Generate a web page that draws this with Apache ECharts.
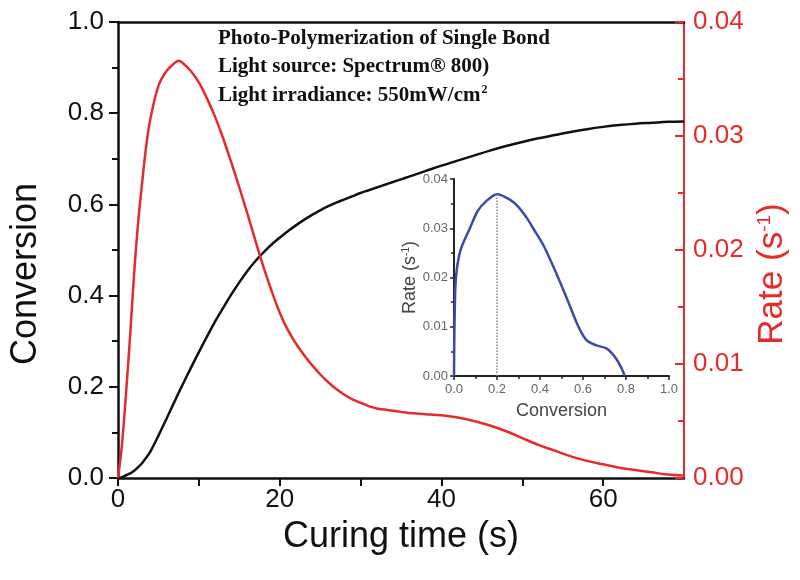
<!DOCTYPE html>
<html><head><meta charset="utf-8">
<script src="https://cdn.jsdelivr.net/npm/echarts@6/dist/echarts.min.js"></script>
<style>html,body{margin:0;padding:0;background:#fff}#c{width:800px;height:580px}</style>
</head><body><div id="c"></div>
<script>
// Main chart data: curing time (s)
const timeS = [0, 0.5, 1, 1.5, 2, 2.5, 3, 3.5, 4, 5, 6, 7, 7.5, 8, 9, 10, 11, 12, 13, 14, 15, 16, 17, 18, 19, 20, 21, 22, 23, 24, 25, 26, 27, 28, 29, 30, 31, 32, 33, 34, 35, 36, 38, 40, 42, 44, 46, 48, 50, 52, 54, 56, 58, 60, 62, 64, 66, 68, 70];
const conversion = [0, 0.002, 0.006, 0.010, 0.016, 0.024, 0.033, 0.045, 0.058, 0.093, 0.13, 0.168, 0.187, 0.205, 0.241, 0.276, 0.31, 0.343, 0.373, 0.402, 0.429, 0.454, 0.476, 0.495, 0.512, 0.527, 0.541, 0.554, 0.566, 0.577, 0.587, 0.596, 0.604, 0.611, 0.618, 0.625, 0.631, 0.637, 0.643, 0.649, 0.655, 0.661, 0.673, 0.685, 0.696, 0.707, 0.718, 0.728, 0.737, 0.745, 0.752, 0.759, 0.765, 0.770, 0.774, 0.777, 0.779, 0.781, 0.782];
const rate = [0, 0.003, 0.0075, 0.0125, 0.018, 0.0225, 0.026, 0.0292, 0.0315, 0.0344, 0.0357, 0.0364, 0.0366, 0.0364, 0.0357, 0.0347, 0.0333, 0.0317, 0.0298, 0.0277, 0.0255, 0.0232, 0.0208, 0.0185, 0.0164, 0.0145, 0.0130, 0.0118, 0.0108, 0.0099, 0.0091, 0.0084, 0.0078, 0.0073, 0.0069, 0.0066, 0.0063, 0.0061, 0.0060, 0.0059, 0.0058, 0.0057, 0.0056, 0.0055, 0.0053, 0.0050, 0.0046, 0.0041, 0.0035, 0.0029, 0.0024, 0.0019, 0.0015, 0.0012, 0.0009, 0.0007, 0.0005, 0.0003, 0.0002];
// Inset data: rate vs conversion
const insetConversion = [0, 0.001, 0.003, 0.009, 0.03, 0.074, 0.11, 0.15, 0.2, 0.26, 0.30, 0.34, 0.368, 0.42, 0.484, 0.53, 0.579, 0.616, 0.663, 0.709, 0.748, 0.779, 0.794];
const insetRate = [0, 0.006, 0.012, 0.020, 0.0255, 0.030, 0.0335, 0.0355, 0.0369, 0.0358, 0.0343, 0.0320, 0.030, 0.0262, 0.020, 0.0152, 0.010, 0.0073, 0.0062, 0.0056, 0.0039, 0.0016, 0];
const peakConversion = 0.2;
const peakRate = 0.0369;
// Tick labels
const timeTickLabels = [0, 20, 40, 60];
const annotationLines = ['Photo-Polymerization of Single Bond', 'Light source: Spectrum® 800)', 'Light irradiance: 550mW/cm'];
const annotationSup = '2';

const RED = '#e62b2b';
const SANS = '"Liberation Sans", Arial, sans-serif';
const SERIF = '"Liberation Serif", "Times New Roman", serif';

const chart = echarts.init(document.getElementById('c'), null, {renderer: 'canvas'});
chart.setOption({
  animation: false,
  backgroundColor: '#fff',
  grid: [
    {left: 115, right: 116, top: 22, bottom: 102},
    {left: 454, right: 131, top: 179, bottom: 204}
  ],
  xAxis: [
    {
      type: 'value', gridIndex: 0, min: 0, max: 70, interval: 10, position: 'bottom',
      name: 'Curing time (s)', nameLocation: 'middle', nameGap: 41,
      nameTextStyle: {fontFamily: SANS, fontSize: 36, color: '#111'},
      axisLine: {show: true, onZero: false, lineStyle: {color: '#111', width: 2.5}},
      axisTick: {show: true, length: 8, lineStyle: {color: '#111', width: 2}},
      axisLabel: {fontFamily: SANS, fontSize: 26, color: '#111', margin: 9, showMaxLabel: false,
        formatter: v => timeTickLabels.includes(v) ? String(v) : ''},
      splitLine: {show: false}
    },
    {
      type: 'value', gridIndex: 0, min: 0, max: 70, position: 'top',
      axisLine: {show: true, onZero: false, lineStyle: {color: '#111', width: 2.5}},
      axisTick: {show: false}, axisLabel: {show: false}, splitLine: {show: false}
    },
    {
      type: 'value', gridIndex: 1, min: 0, max: 1, interval: 0.2,
      name: 'Conversion', nameLocation: 'middle', nameGap: 26,
      nameTextStyle: {fontFamily: SANS, fontSize: 18, color: '#444'},
      axisLine: {show: true, onZero: false, lineStyle: {color: '#222', width: 2}},
      axisTick: {show: true, length: 4, lineStyle: {color: '#222', width: 1.5}},
      minorTick: {show: true, splitNumber: 2, length: 3, lineStyle: {color: '#222', width: 1.5}},
      axisLabel: {fontFamily: SANS, fontSize: 13, color: '#666', margin: 7, formatter: v => v.toFixed(1)},
      splitLine: {show: false}
    }
  ],
  yAxis: [
    {
      type: 'value', gridIndex: 0, min: 0, max: 1, interval: 0.2, position: 'left',
      name: 'Conversion', nameLocation: 'middle', nameGap: 74, nameRotate: 90,
      nameTextStyle: {fontFamily: SANS, fontSize: 36, color: '#111', padding: [0, 48, 0, 0]},
      axisLine: {show: true, onZero: false, lineStyle: {color: '#111', width: 2.5}},
      axisTick: {show: true, length: 9, lineStyle: {color: '#111', width: 2}},
      minorTick: {show: true, splitNumber: 2, length: 6, lineStyle: {color: '#111', width: 2}},
      axisLabel: {fontFamily: SANS, fontSize: 26, color: '#111', margin: 14, formatter: v => v.toFixed(1)},
      splitLine: {show: false}
    },
    {
      type: 'value', gridIndex: 0, min: 0, max: 0.04, interval: 0.01, position: 'right',
      name: 'Rate (s{sup|-1})', nameLocation: 'middle', nameGap: 67, nameRotate: 90,
      nameTextStyle: {fontFamily: SANS, fontSize: 35, color: RED, padding: [0, 48, 0, 0],
        rich: {sup: {fontFamily: SANS, fontSize: 19, color: RED, padding: [0, 0, 15, 0]}}},
      axisLine: {show: true, onZero: false, lineStyle: {color: RED, width: 2}},
      axisTick: {show: true, inside: true, length: 9, lineStyle: {color: RED, width: 2}},
      minorTick: {show: true, splitNumber: 2, length: 6, lineStyle: {color: RED, width: 2}},
      axisLabel: {fontFamily: SANS, fontSize: 26, color: RED, margin: 9, formatter: v => v.toFixed(2)},
      splitLine: {show: false}
    },
    {
      type: 'value', gridIndex: 1, min: 0, max: 0.04, interval: 0.01,
      name: 'Rate (s{sup|-1})', nameLocation: 'middle', nameGap: 34, nameRotate: 90,
      nameTextStyle: {fontFamily: SANS, fontSize: 18, color: '#444',
        rich: {sup: {fontFamily: SANS, fontSize: 10, color: '#444', padding: [0, 0, 8, 0]}}},
      axisLine: {show: true, onZero: false, lineStyle: {color: '#222', width: 2}},
      axisTick: {show: true, length: 4, lineStyle: {color: '#222', width: 1.5}},
      minorTick: {show: true, splitNumber: 2, length: 3, lineStyle: {color: '#222', width: 1.5}},
      axisLabel: {fontFamily: SANS, fontSize: 13, color: '#666', margin: 6, formatter: v => v.toFixed(2)},
      splitLine: {show: false}
    }
  ],
  series: [
    {
      type: 'line', name: 'Conversion', xAxisIndex: 0, yAxisIndex: 0,
      data: timeS.map((t, i) => [t, conversion[i]]),
      showSymbol: false, smooth: 0.35, lineStyle: {color: '#111', width: 2.5}, z: 3
    },
    {
      type: 'line', name: 'Rate', xAxisIndex: 0, yAxisIndex: 1,
      data: timeS.map((t, i) => [t, rate[i]]),
      showSymbol: false, smooth: 0.35, lineStyle: {color: RED, width: 2.5}, z: 3
    },
    {
      type: 'line', name: 'Inset', xAxisIndex: 2, yAxisIndex: 2,
      data: insetConversion.map((c, i) => [c, insetRate[i]]),
      showSymbol: false, smooth: 0.3, lineStyle: {color: '#3c4ba6', width: 2.5}, z: 4,
      markLine: {
        silent: true, symbol: ['none', 'none'], label: {show: false},
        lineStyle: {color: '#888', type: 'dotted', width: 1.5},
        data: [[{coord: [peakConversion, 0]}, {coord: [peakConversion, peakRate]}]]
      }
    }
  ],
  graphic: annotationLines.map((line, i) => ({
    type: 'text', left: 218, top: 28 + i * 28, z: 10,
    style: {
      text: i === 2 ? '{m|' + line + '}{s|' + annotationSup + '}' : '{m|' + line + '}',
      rich: {
        m: {fontFamily: SERIF, fontWeight: 'bold', fontSize: 21, fill: '#111', color: '#111'},
        s: {fontFamily: SERIF, fontWeight: 'bold', fontSize: 12, fill: '#111', color: '#111', padding: [0, 0, 11, 1]}
      }
    }
  }))
});
</script></body></html>
